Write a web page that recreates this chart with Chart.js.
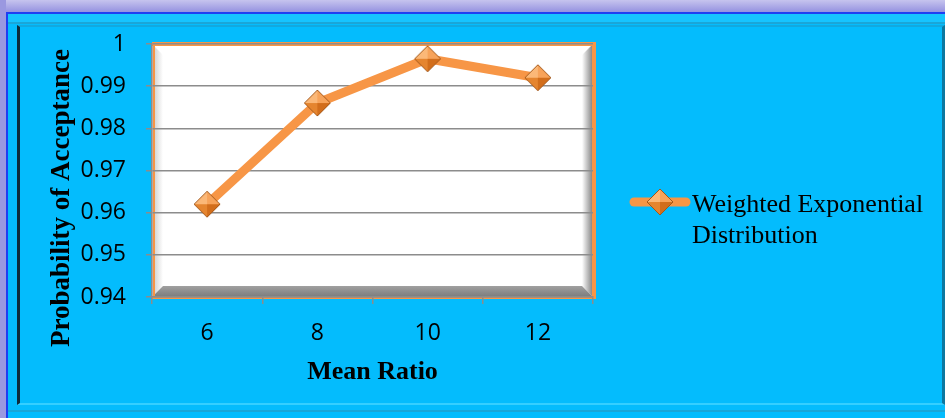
<!DOCTYPE html>
<html>
<head>
<meta charset="utf-8">
<script src="https://cdn.jsdelivr.net/npm/chart.js@4.4.1/dist/chart.umd.min.js"></script>
<style>
  html, body { margin: 0; padding: 0; }
  body { width: 945px; height: 418px; position: relative; overflow: hidden; background: #04bcfd; }
  .lav-top { position: absolute; left: 0; top: 0; width: 945px; height: 12px; background: linear-gradient(#c6c4ee, #9592e0); }
  .lav-left { position: absolute; left: 0; top: 0; width: 6px; height: 418px; background: #9a98e0; }
  .blue-top { position: absolute; left: 6px; top: 12px; width: 939px; height: 2px; background: #1f3ef2; }
  .blue-left { position: absolute; left: 6px; top: 12px; width: 2px; height: 406px; background: #1f3ef2; }
  .stripe-top { position: absolute; left: 8px; top: 14px; width: 937px; height: 8px; background: #16c4ff; border-bottom: 2px solid #1aa6d8; }
  .panel { position: absolute; left: 17px; top: 25px; width: 922px; height: 376px;
           background: #04bcfd; border-left: 3px solid #0d2c3c; border-top: 2px solid #12a9df;
           border-right: 3px solid #0d78a0; border-bottom: 2px solid #35cfff; }
  .stripe-bot { position: absolute; left: 8px; top: 410px; width: 937px; height: 2px; background: #1aa6d8; }
  canvas { position: absolute; left: 0; top: 0; }
</style>
</head>
<body>
<div class="lav-top"></div>
<div class="lav-left"></div>
<div class="blue-top"></div>
<div class="blue-left"></div>
<div class="stripe-top"></div>
<div class="panel"></div>
<div class="stripe-bot"></div>
<canvas id="chart" width="945" height="418"></canvas>
<script>
const meanRatios = ["6", "8", "10", "12"];
const acceptance = [0.962, 0.986, 0.9965, 0.992];
const seriesName = "Weighted Exponential Distribution";
const xTitle = "Mean Ratio";
const yTitle = "Probability of Acceptance";

const orange = "#f79646";

// 3D looking diamond marker
function makeDiamond() {
    const c = document.createElement("canvas");
    c.width = 30; c.height = 30;
    const g = c.getContext("2d");
    const m = 15, r = 13;
    const T = [m, m - r], R = [m + r, m], B = [m, m + r], L = [m - r, m], C = [m, m];
    function tri(a, b, d, col) {
        g.beginPath(); g.moveTo(a[0], a[1]); g.lineTo(b[0], b[1]); g.lineTo(d[0], d[1]); g.closePath();
        g.fillStyle = col; g.fill();
    }
    tri(T, C, L, "#fbb878");
    tri(T, R, C, "#f7a35a");
    tri(R, B, C, "#d26e1c");
    tri(B, L, C, "#e5852f");
    g.beginPath(); g.moveTo(T[0], T[1]); g.lineTo(R[0], R[1]); g.lineTo(B[0], B[1]); g.lineTo(L[0], L[1]); g.closePath();
    g.strokeStyle = "#a4581a"; g.lineWidth = 1; g.stroke();
    return c;
}
const diamond = makeDiamond();

const plotFrame = {
    id: "plotFrame",
    beforeDraw(chart) {
        const { ctx, chartArea: a } = chart;
        ctx.save();
        ctx.fillStyle = "#ffffff";
        ctx.fillRect(a.left, a.top, a.right - a.left, a.bottom - a.top);
        const bw = 11;
        // left bevel
        let gr = ctx.createLinearGradient(a.left, 0, a.left + bw, 0);
        gr.addColorStop(0, "#c8c8c8"); gr.addColorStop(1, "#ffffff");
        ctx.fillStyle = gr;
        ctx.beginPath();
        ctx.moveTo(a.left, a.top); ctx.lineTo(a.left + bw, a.top + bw);
        ctx.lineTo(a.left + bw, a.bottom - bw); ctx.lineTo(a.left, a.bottom); ctx.closePath(); ctx.fill();
        // right bevel
        gr = ctx.createLinearGradient(a.right - bw, 0, a.right, 0);
        gr.addColorStop(0, "#ffffff"); gr.addColorStop(1, "#7e7e7e");
        ctx.fillStyle = gr;
        ctx.beginPath();
        ctx.moveTo(a.right, a.top); ctx.lineTo(a.right - bw, a.top + bw);
        ctx.lineTo(a.right - bw, a.bottom - bw); ctx.lineTo(a.right, a.bottom); ctx.closePath(); ctx.fill();
        // bottom bevel
        gr = ctx.createLinearGradient(0, a.bottom - bw, 0, a.bottom);
        gr.addColorStop(0, "#a0a0a0"); gr.addColorStop(1, "#7c7c7c");
        ctx.fillStyle = gr;
        ctx.beginPath();
        ctx.moveTo(a.left, a.bottom); ctx.lineTo(a.left + bw, a.bottom - bw);
        ctx.lineTo(a.right - bw, a.bottom - bw); ctx.lineTo(a.right, a.bottom); ctx.closePath(); ctx.fill();
        // orange frame
        ctx.fillStyle = orange;
        ctx.fillRect(a.left, a.top - 2, a.right - a.left + 3, 4);
        ctx.fillRect(a.right - 1, a.top - 2, 4, a.bottom - a.top + 4);
        ctx.fillRect(a.left + 1, a.top - 2, 2, a.bottom - a.top + 3);
        ctx.fillRect(a.left, a.bottom, a.right - a.left + 3, 2);
        ctx.restore();
    },
    afterDraw(chart) {
        const { ctx } = chart;
        ctx.save();
        // y title
        ctx.translate(62, 198);
        ctx.rotate(-Math.PI / 2);
        ctx.font = "bold 27px 'Liberation Serif', 'Times New Roman', serif";
        ctx.fillStyle = "#000";
        ctx.textAlign = "center";
        ctx.textBaseline = "middle";
        ctx.fillText(yTitle, 0, 0);
        ctx.restore();

        // legend
        ctx.save();
        const ly = 202;
        ctx.strokeStyle = orange;
        ctx.lineWidth = 9;
        ctx.lineCap = "round";
        ctx.beginPath(); ctx.moveTo(634, ly); ctx.lineTo(686, ly); ctx.stroke();
        ctx.drawImage(diamond, 660 - 15, ly - 15);
        ctx.font = "26px 'Liberation Serif', 'Times New Roman', serif";
        ctx.fillStyle = "#000";
        ctx.textBaseline = "alphabetic";
        const words = chart.data.datasets[0].label.split(" ");
        const lines = [];
        let cur = "";
        words.forEach(w => {
            const t = cur ? cur + " " + w : w;
            if (ctx.measureText(t).width > 245 && cur) { lines.push(cur); cur = w; } else { cur = t; }
        });
        lines.push(cur);
        lines.forEach((l, i) => ctx.fillText(l, 692, 212 + i * 31));
        ctx.restore();
    }
};

const tickFont = { family: "'Open Sans', 'Liberation Sans', sans-serif", size: 23 };

new Chart(document.getElementById("chart").getContext("2d"), {
    type: "line",
    data: {
        labels: meanRatios,
        datasets: [{
            label: seriesName,
            data: acceptance,
            borderColor: orange,
            borderWidth: 9,
            borderCapStyle: "round",
            borderJoinStyle: "round",
            tension: 0,
            pointStyle: diamond,
            pointRadius: 14,
            pointHoverRadius: 14
        }]
    },
    plugins: [plotFrame],
    options: {
        responsive: false,
        animation: false,
        events: [],
        layout: { padding: { left: 0, top: 44, right: 352, bottom: 0 } },
        plugins: { legend: { display: false }, tooltip: { enabled: false } },
        scales: {
            x: {
                offset: true,
                grid: { offset: true, drawOnChartArea: false, tickLength: 7, color: "#8c8c8c", lineWidth: 1.5 },
                border: { color: "#8c8c8c", width: 1.5 },
                ticks: { color: "#000", font: tickFont, padding: 16, maxRotation: 0 },
                title: {
                    display: true, text: xTitle, color: "#000",
                    font: { family: "'Liberation Serif', 'Times New Roman', serif", size: 26, weight: "bold" },
                    padding: { top: 0, bottom: 30 }
                },
                afterFit(scale) { scale.height = 121; }
            },
            y: {
                min: 0.94,
                max: 1,
                grid: { tickLength: 6, color: "#8c8c8c", lineWidth: 1.5 },
                border: { color: "#8c8c8c", width: 1.5 },
                ticks: {
                    stepSize: 0.01, color: "#000", font: tickFont, padding: 20,
                    callback: v => String(Number(v.toFixed(2)))
                },
                afterFit(scale) { scale.width = 152; }
            }
        }
    }
});
</script>
</body>
</html>
